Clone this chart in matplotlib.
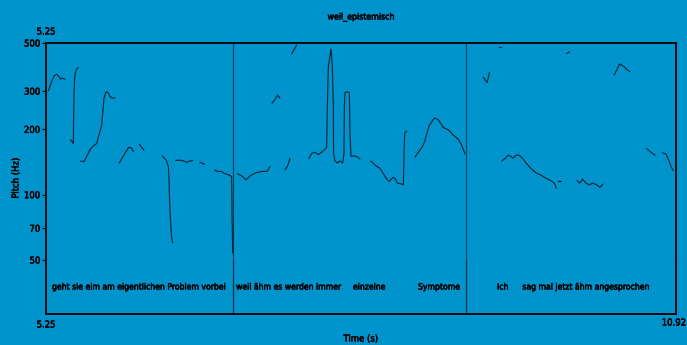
import matplotlib
matplotlib.use("Agg")
import matplotlib.pyplot as plt
import matplotlib.patheffects as pe
from matplotlib.ticker import FixedLocator, FixedFormatter, NullLocator

# ---------------- data ----------------
title = "weil_epistemisch"
t_start, t_end = 5.25, 10.92
pitch_ticks = [50, 70, 100, 200, 300, 500]
boundaries = [6.933, 9.03]

seg_times = [
    [5.271, 5.301, 5.322, 5.346, 5.367, 5.382, 5.400, 5.421],
    [5.471, 5.496, 5.498, 5.502, 5.508, 5.520, 5.541],
    [5.562, 5.592, 5.616, 5.646, 5.676, 5.706, 5.721, 5.736, 5.751, 5.760, 5.772, 5.790, 5.811, 5.826, 5.856, 5.871],
    [5.910, 5.957, 5.993, 6.021, 6.036],
    [6.090, 6.132],
    [6.297, 6.333, 6.351, 6.357, 6.362, 6.371, 6.380, 6.390],
    [6.417, 6.471, 6.519, 6.546, 6.573],
    [6.636, 6.677],
    [6.767, 6.792, 6.825, 6.861, 6.902, 6.921, 6.923, 6.925, 6.930],
    [6.972, 7.011, 7.050, 7.086, 7.136, 7.194, 7.239, 7.266],
    [7.401, 7.422, 7.434, 7.446],
    [7.284, 7.311, 7.335, 7.356],
    [7.461, 7.506],
    [7.617, 7.641, 7.671, 7.701, 7.731, 7.761, 7.776, 7.782, 7.791, 7.815, 7.827, 7.836, 7.838,
     7.851, 7.872, 7.896, 7.920, 7.932, 7.935, 7.941, 7.962, 7.980, 7.986, 7.995, 8.016, 8.046, 8.076],
    [8.172, 8.211, 8.256, 8.286, 8.316, 8.340, 8.370, 8.391, 8.412, 8.451, 8.466, 8.472, 8.478, 8.496],
    [8.571, 8.616, 8.646, 8.670, 8.700, 8.747, 8.781, 8.826, 8.871, 8.916, 8.961, 8.991, 9.021],
    [9.186, 9.219, 9.234, 9.240],
    [9.327, 9.341],
    [9.935, 9.962],
    [9.352, 9.384, 9.408, 9.435, 9.453, 9.480, 9.510, 9.540, 9.570, 9.615, 9.660, 9.705, 9.750, 9.795, 9.825, 9.843],
    [9.862, 9.885],
    [10.029, 10.056, 10.079, 10.110, 10.140, 10.170, 10.206, 10.236, 10.263],
    [10.364, 10.386, 10.412, 10.431, 10.452, 10.476, 10.506],
    [10.656, 10.701, 10.731],
    [10.797, 10.830, 10.857, 10.875, 10.896],
]
seg_hz = [
    [301, 332, 352, 359, 350, 341, 344, 341],
    [179, 172, 221, 288, 348, 375, 387],
    [143, 142, 150, 161, 168, 172, 185, 196, 209, 237, 278, 298, 295, 283, 278, 280],
    [140, 154, 165, 164, 158],
    [171, 160],
    [151, 144, 135, 117, 94, 76, 64, 60],
    [144, 144, 141, 143, 144],
    [141, 138],
    [130, 128, 128, 125, 123, 121, 101, 76, 54],
    [125, 122, 117, 122, 126, 128, 128, 135],
    [130, 135, 140, 147],
    [264, 275, 288, 278],
    [445, 490],
    [147, 155, 157, 153, 157, 162, 166, 254, 389, 468, 389, 254, 155,
     143, 140, 143, 140, 155, 254, 296, 298, 295, 192, 150, 151, 150, 146],
    [143, 137, 132, 125, 118, 115, 120, 119, 113, 112, 111, 150, 192, 197],
    [149, 161, 169, 185, 209, 226, 221, 204, 199, 188, 180, 169, 154],
    [348, 328, 350, 366],
    [477, 477],
    [447, 455],
    [143, 147, 152, 150, 147, 152, 152, 147, 140, 132, 126, 123, 119, 116, 113, 107],
    [116, 116],
    [116, 113, 118, 113, 111, 113, 111, 108, 112],
    [356, 375, 400, 396, 389, 378, 369],
    [163, 156, 152],
    [156, 154, 143, 135, 129],
]

tier_words = ["geht sie eim am eigentlichen Problem vorbei", "weil ähm es werden immer",
              "einzelne", "Symptome", "Ich", "sag mal jetzt ähm angesprochen"]
tier_word_times = [5.304, 6.960, 8.013, 8.598, 9.309, 9.537]

# ---------------- style ----------------
BG = "#0093cc"
INK = "#0b2230"
plt.rcParams["font.family"] = ["DejaVu Sans"]
plt.rcParams["font.stretch"] = "condensed"
STROKE = [pe.withStroke(linewidth=0.35, foreground="black")]
TXT = dict(fontstretch="condensed", fontweight="normal", color="black", path_effects=STROKE)

W, H = 687, 345
fig = plt.figure(figsize=(W / 100, H / 100), dpi=100, facecolor=BG)

x0, x1 = 46, 676
y_top, y_mid, y_bot = 43, 260, 314

def rect(ya, yb):
    return [x0 / W, 1 - yb / H, (x1 - x0) / W, (yb - ya) / H]

ax = fig.add_axes(rect(y_top, y_mid))
axt = fig.add_axes(rect(y_mid, y_bot), sharex=ax)

for a in (ax, axt):
    a.set_facecolor(BG)
    a.set_xlim(t_start, t_end)
    a.xaxis.set_major_locator(NullLocator())
    a.xaxis.set_minor_locator(NullLocator())

ax.set_yscale("log")
ax.set_ylim(50, 500)
ax.yaxis.set_major_locator(FixedLocator(pitch_ticks))
ax.yaxis.set_major_formatter(FixedFormatter([str(v) for v in pitch_ticks]))
ax.yaxis.set_minor_locator(NullLocator())
ax.tick_params(axis="y", direction="out", length=3, width=0.8, pad=1,
               labelsize=6.8, colors="black")
for lab in ax.get_yticklabels():
    lab.set_fontstretch("condensed")
    lab.set_path_effects(STROKE)
axt.set_yticks([])

for s in ("top", "left", "right"):
    ax.spines[s].set_linewidth(1.3)
    ax.spines[s].set_color("black")
ax.spines["bottom"].set_linewidth(0.7)
ax.spines["bottom"].set_color("#073a55")
axt.spines["top"].set_visible(False)
for s in ("bottom", "left", "right"):
    axt.spines[s].set_linewidth(1.3)
    axt.spines[s].set_color("black")

for ts, hs in zip(seg_times, seg_hz):
    ax.plot(ts, hs, color=INK, lw=0.8, solid_capstyle="round")

for b in boundaries:
    ax.axvline(b, color="#073a55", lw=0.8)
    axt.axvline(b, color="#062f45", lw=0.9)

for w, t in zip(tier_words, tier_word_times):
    axt.text(t, 0.5, w, ha="left", va="center", fontsize=6.2,
             transform=axt.get_xaxis_transform(), **TXT)

fig.text(361 / W, 1 - 17 / H, title, ha="center", va="center", fontsize=6.3, **TXT)
fig.text(46 / W, 1 - 32 / H, f"{t_start:.2f}", ha="center", va="center", fontsize=6.8, **TXT)
fig.text(46 / W, 1 - 325 / H, f"{t_start:.2f}", ha="center", va="center", fontsize=6.8, **TXT)
fig.text(674 / W, 1 - 323 / H, f"{t_end:.2f}", ha="center", va="center", fontsize=6.8, **TXT)
fig.text(361 / W, 1 - 339 / H, "Time (s)", ha="center", va="center", fontsize=6.8, **TXT)
fig.text(16 / W, 1 - 178 / H, "Pitch (Hz)", ha="center", va="center", fontsize=6.8,
         rotation=90, **TXT)

fig.savefig("out.png", dpi=100, facecolor=BG)
